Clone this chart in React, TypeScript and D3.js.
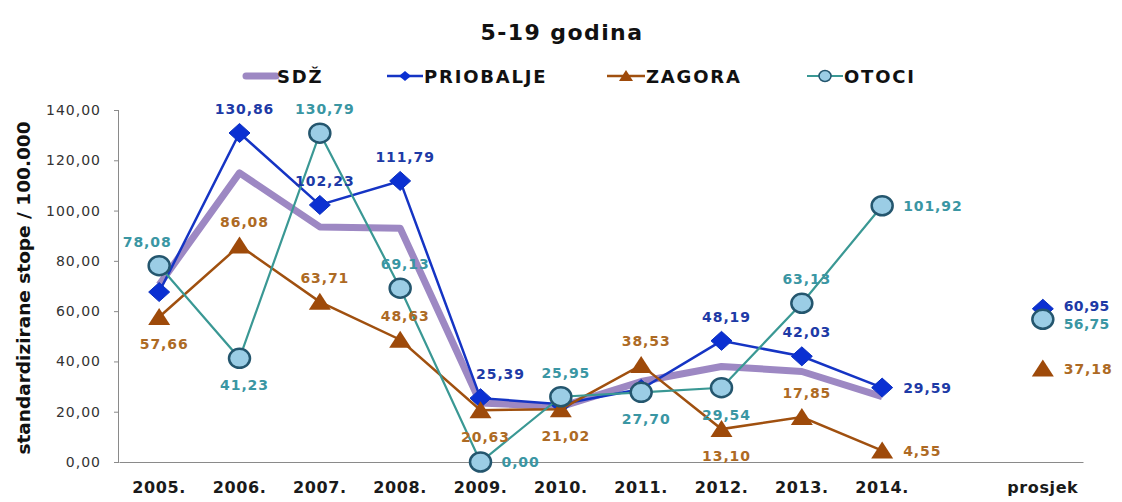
import { useEffect, useRef } from 'react';
import * as d3 from 'd3';

const categories = ['2005.', '2006.', '2007.', '2008.', '2009.', '2010.', '2011.', '2012.', '2013.', '2014.', '', 'prosjek'];
const yTicks = [0, 20, 40, 60, 80, 100, 120, 140];

const sdz = [70.5, 115, 93.5, 93, 23.5, 22, 32, 38, 36, 26, null, null];
const priobalje = [67.6, 130.86, 102.23, 111.79, 25.39, 23, 29, 48.19, 42.03, 29.59, null, 60.95];
const zagora = [57.66, 86.08, 63.71, 48.63, 20.63, 21.02, 38.53, 13.1, 17.85, 4.55, null, 37.18];
const otoci = [78.08, 41.23, 130.79, 69.13, 0, 25.95, 27.7, 29.54, 63.13, 101.92, null, 56.75];

// where each data label goes: a = above, b = below, r = right, rt/rb = right nudged up/down,
// al/ar = above shifted left/right, '' = none
const priobaljeLabels = ['', 'a', 'a', 'a', 'ar', '', '', 'a', 'a', 'r', '', 'rt'];
const zagoraLabels = ['b', 'a', 'a', 'a', 'b', 'b', 'a', 'b', 'a', 'r', '', 'r'];
const otociLabels = ['al', 'b', 'a', 'a', 'r', 'a', 'b', 'b', 'a', 'r', '', 'rb'];

const fmt = (v: number) => d3.format('.2f')(v).replace('.', ',');

export default function App() {
  const svgRef = useRef<SVGSVGElement | null>(null);

  useEffect(() => {
    const width = 1122;
    const height = 502;
    const margin = { top: 110, right: 39, bottom: 40, left: 119 };

    const svg = d3.select(svgRef.current);
    svg.selectAll('*').remove();
    svg.attr('width', width).attr('height', height);

    const x = d3.scaleBand()
      .domain(categories.map((c, i) => c + '#' + i))
      .range([margin.left, width - margin.right]);
    const cx = (i: number) => x(categories[i] + '#' + i)! + x.bandwidth() / 2;

    const y = d3.scaleLinear()
      .domain([0, 140])
      .range([height - margin.bottom, margin.top]);

    // title
    svg.append('text')
      .attr('x', 562).attr('y', 40)
      .attr('text-anchor', 'middle')
      .attr('font-family', 'DejaVu Sans')
      .attr('font-weight', 'bold')
      .attr('font-size', 22)
      .attr('letter-spacing', 1.4)
      .attr('fill', '#111')
      .text('5-19 godina');

    // y axis
    const yAxis = svg.append('g')
      .attr('transform', `translate(${margin.left},0)`)
      .call(d3.axisLeft(y).tickValues(yTicks).tickSize(5).tickPadding(13).tickFormat(d => fmt(+d)));
    yAxis.select('.domain').attr('stroke', '#8a8a8a').attr('d', `M-0.5,${y(140)}V${y(0)}`);
    yAxis.selectAll('line').attr('stroke', '#8a8a8a');
    yAxis.selectAll('text')
      .attr('font-family', 'DejaVu Sans')
      .attr('font-size', 14)
      .attr('letter-spacing', 1)
      .attr('fill', '#333');

    // x axis
    const xAxis = svg.append('g')
      .attr('transform', `translate(0,${y(0)})`)
      .call(d3.axisBottom(x).tickSize(0).tickPadding(20).tickFormat(d => String(d).split('#')[0]));
    xAxis.select('.domain').attr('stroke', '#8a8a8a');
    xAxis.selectAll('text')
      .attr('font-family', 'DejaVu Sans')
      .attr('font-weight', 'bold')
      .attr('font-size', 16)
      .attr('letter-spacing', 0.6)
      .attr('fill', '#1a1a1a');

    // y title
    svg.append('text')
      .attr('transform', `translate(30,${(y(0) + y(140)) / 2 + 2}) rotate(-90)`)
      .attr('text-anchor', 'middle')
      .attr('font-family', 'DejaVu Sans')
      .attr('font-weight', 'bold')
      .attr('font-size', 18.5)
      .attr('fill', '#111')
      .text('standardizirane stope / 100.000');

    const line = d3.line<number | null>()
      .defined(d => d !== null)
      .x((_, i) => cx(i))
      .y(d => y(d as number));

    const diamond = 'M0,-9.5L10.5,0L0,9.5L-10.5,0Z';
    const triangle = 'M0,-9L11,8L-11,8Z';

    // SDŽ
    svg.append('path')
      .attr('d', line(sdz.slice(0, 10)))
      .attr('fill', 'none')
      .attr('stroke', '#9d88c3')
      .attr('stroke-width', 7)
      .attr('stroke-linejoin', 'round');

    // PRIOBALJE
    svg.append('path')
      .attr('d', line(priobalje.slice(0, 10)))
      .attr('fill', 'none')
      .attr('stroke', '#1534c4')
      .attr('stroke-width', 2.5);
    svg.append('g').selectAll('path')
      .data(priobalje.map((v, i) => ({ v, i })).filter(d => d.v !== null))
      .enter().append('path')
      .attr('d', diamond)
      .attr('transform', d => `translate(${cx(d.i)},${y(d.v as number)})`)
      .attr('fill', '#0b30d2')
      .attr('stroke', '#0b30c0')
      .attr('stroke-width', 1);

    // ZAGORA
    svg.append('path')
      .attr('d', line(zagora.slice(0, 10)))
      .attr('fill', 'none')
      .attr('stroke', '#a0500f')
      .attr('stroke-width', 2.5);
    svg.append('g').selectAll('path')
      .data(zagora.map((v, i) => ({ v, i })).filter(d => d.v !== null))
      .enter().append('path')
      .attr('d', triangle)
      .attr('transform', d => `translate(${cx(d.i)},${y(d.v as number)})`)
      .attr('fill', '#9e4a0a');

    // OTOCI
    svg.append('path')
      .attr('d', line(otoci.slice(0, 10)))
      .attr('fill', 'none')
      .attr('stroke', '#3a9894')
      .attr('stroke-width', 2.2);
    svg.append('g').selectAll('ellipse')
      .data(otoci.map((v, i) => ({ v, i })).filter(d => d.v !== null))
      .enter().append('ellipse')
      .attr('cx', d => cx(d.i))
      .attr('cy', d => y(d.v as number))
      .attr('rx', 10.5)
      .attr('ry', 9.5)
      .attr('fill', '#9bcde5')
      .attr('stroke', '#24566e')
      .attr('stroke-width', 2.5);

    // data labels
    const addLabels = (values: (number | null)[], places: string[], color: string) => {
      values.forEach((v, i) => {
        const p = places[i];
        if (v === null || !p) return;
        const px = cx(i);
        const py = y(v);
        let tx = px + 5;
        let ty = py - 19;
        let anchor = 'middle';
        if (p === 'b') { ty = py + 32; }
        if (p === 'al') { tx = px - 12; }
        if (p === 'ar') { tx = px + 20; }
        if (p[0] === 'r') {
          tx = px + 21;
          ty = py + 5;
          anchor = 'start';
          if (p === 'rt') ty = py + 2;
          if (p === 'rb') ty = py + 10;
        }
        svg.append('text')
          .attr('x', tx).attr('y', ty)
          .attr('text-anchor', anchor)
          .attr('font-family', 'DejaVu Sans')
          .attr('font-weight', 'bold')
          .attr('font-size', 14)
          .attr('letter-spacing', p === 'rt' || p === 'rb' ? 0.3 : 0.9)
          .attr('fill', color)
          .text(fmt(v));
      });
    };
    addLabels(priobalje, priobaljeLabels, '#1d3aa6');
    addLabels(zagora, zagoraLabels, '#ad6a24');
    addLabels(otoci, otociLabels, '#3a96a3');

    // legend
    const ly = 76;
    const legend = svg.append('g')
      .attr('font-family', 'DejaVu Sans')
      .attr('font-weight', 'bold')
      .attr('font-size', 18)
      .attr('letter-spacing', 1.8)
      .attr('fill', '#111');
    const items = [
      { name: 'SDŽ', x0: 243, x1: 276 },
      { name: 'PRIOBALJE', x0: 387, x1: 423 },
      { name: 'ZAGORA', x0: 607, x1: 645 },
      { name: 'OTOCI', x0: 807, x1: 843 },
    ];
    items.forEach((it, k) => {
      const mid = (it.x0 + it.x1) / 2;
      if (k === 0) {
        legend.append('line').attr('x1', it.x0 + 3).attr('x2', it.x1).attr('y1', ly).attr('y2', ly)
          .attr('stroke', '#9d88c3').attr('stroke-width', 7).attr('stroke-linecap', 'round');
      } else if (k === 1) {
        legend.append('line').attr('x1', it.x0).attr('x2', it.x1).attr('y1', ly).attr('y2', ly)
          .attr('stroke', '#1534c4').attr('stroke-width', 2.5);
        legend.append('path').attr('d', 'M0,-5L6,0L0,5L-6,0Z').attr('transform', `translate(${mid},${ly})`).attr('fill', '#0b30d2');
      } else if (k === 2) {
        legend.append('line').attr('x1', it.x0).attr('x2', it.x1).attr('y1', ly).attr('y2', ly)
          .attr('stroke', '#a0500f').attr('stroke-width', 2.5);
        legend.append('path').attr('d', 'M0,-6L7,5L-7,5Z').attr('transform', `translate(${mid},${ly})`).attr('fill', '#9e4a0a');
      } else {
        legend.append('line').attr('x1', it.x0).attr('x2', it.x1).attr('y1', ly).attr('y2', ly)
          .attr('stroke', '#3a9894').attr('stroke-width', 2.2);
        legend.append('ellipse').attr('cx', mid).attr('cy', ly).attr('rx', 6).attr('ry', 5.5)
          .attr('fill', '#9bcde5').attr('stroke', '#24566e').attr('stroke-width', 1.5);
      }
      legend.append('text').attr('x', it.x1 + 1).attr('y', ly + 7).text(it.name);
    });
  }, []);

  return (
    <svg
      ref={svgRef}
      style={{ position: 'absolute', left: 0, top: 0, display: 'block', background: '#fff' }}
    />
  );
}
